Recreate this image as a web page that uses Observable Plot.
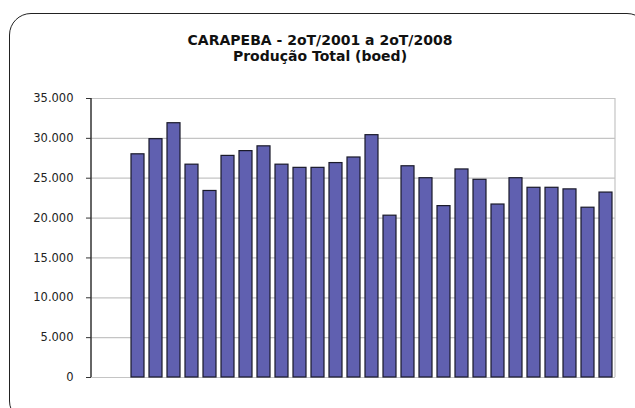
<!DOCTYPE html>
<html>
<head>
<meta charset="utf-8">
<script src="https://cdn.jsdelivr.net/npm/d3@7"></script>
<script src="https://cdn.jsdelivr.net/npm/@observablehq/plot@0.6"></script>
<style>
  html, body { margin: 0; padding: 0; background: #fff; }
  #wrap { position: relative; width: 635px; height: 408px; overflow: hidden; font-family: "DejaVu Sans", sans-serif; }
  #frame { position: absolute; left: 9px; top: 13px; width: 640px; height: 410px; border: 1.6px solid #222; border-radius: 22px; box-sizing: border-box; }
  #title { position: absolute; left: 0; width: 640px; top: 33px; text-align: center; font-weight: bold; font-size: 14px; line-height: 15.5px; color: #111; }
  #chart { position: absolute; left: 0; top: 0; }
</style>
</head>
<body>
<div id="wrap">
  <div id="frame"></div>
  <div id="title">CARAPEBA - 2oT/2001 a 2oT/2008<br>Produção Total (boed)</div>
  <div id="chart"></div>
</div>
<script>
const quarters = [
  "2T/2001","3T/2001","4T/2001",
  "1T/2002","2T/2002","3T/2002","4T/2002",
  "1T/2003","2T/2003","3T/2003","4T/2003",
  "1T/2004","2T/2004","3T/2004","4T/2004",
  "1T/2005","2T/2005","3T/2005","4T/2005",
  "1T/2006","2T/2006","3T/2006","4T/2006",
  "1T/2007","2T/2007","3T/2007","4T/2007",
  "1T/2008","2T/2008"
];
const production = [
  null, null, 28000,
  29900, 31900, 26700, 23400,
  27800, 28400, 29000, 26700,
  26300, 26300, 26900, 27600,
  30400, 20300, 26500, 25000,
  21500, 26100, 24800, 21700,
  25000, 23800, 23800, 23600,
  21300, 23200
];
const yTicks = [0, 5000, 10000, 15000, 20000, 25000, 30000, 35000];

const data = quarters.map((q, i) => ({q, v: production[i]})).filter(d => d.v != null);
const fmt = d => d3.format(",")(d).replace(/,/g, ".");

const chart = Plot.plot({
  width: 635,
  height: 408,
  marginLeft: 91,
  marginRight: 20,
  marginTop: 98,
  marginBottom: 31,
  style: {fontFamily: "'DejaVu Sans', sans-serif", fontSize: "11.5px", color: "#222", background: "transparent", overflow: "visible"},
  x: {domain: quarters, paddingInner: 0.3, paddingOuter: 0.15, axis: null},
  y: {domain: [0, 35000], ticks: yTicks, tickFormat: fmt, label: null},
  marks: [
    Plot.ruleY(yTicks, {stroke: "#c4c4c4", strokeWidth: 1.2}),
    (index, scales, values, dims) => {
      const g = d3.create("svg:g");
      const x0 = dims.marginLeft, x1 = dims.width - dims.marginRight;
      const yTop = scales.y(35000), yBot = scales.y(0);
      g.append("line").attr("x1", x1).attr("x2", x1).attr("y1", yTop).attr("y2", yBot).attr("stroke", "#c4c4c4").attr("stroke-width", 1.2);
      return g.node();
    },
    Plot.barY(data, {x: "q", y: "v", fill: "#6060b0", stroke: "#1a1a2a", strokeWidth: 1.2}),
    Plot.axisY({ticks: yTicks, tickFormat: fmt, tickSize: 5, tickPadding: 13, stroke: "#333", fill: "#222", label: null}),
    (index, scales, values, dims) => {
      const g = d3.create("svg:g");
      const x0 = dims.marginLeft;
      const yTop = scales.y(35000), yBot = scales.y(0);
      g.append("line").attr("x1", x0).attr("x2", x0).attr("y1", yTop).attr("y2", yBot).attr("stroke", "#333").attr("stroke-width", 1.5);
      return g.node();
    }
  ]
});
document.getElementById("chart").appendChild(chart);
</script>
</body>
</html>
